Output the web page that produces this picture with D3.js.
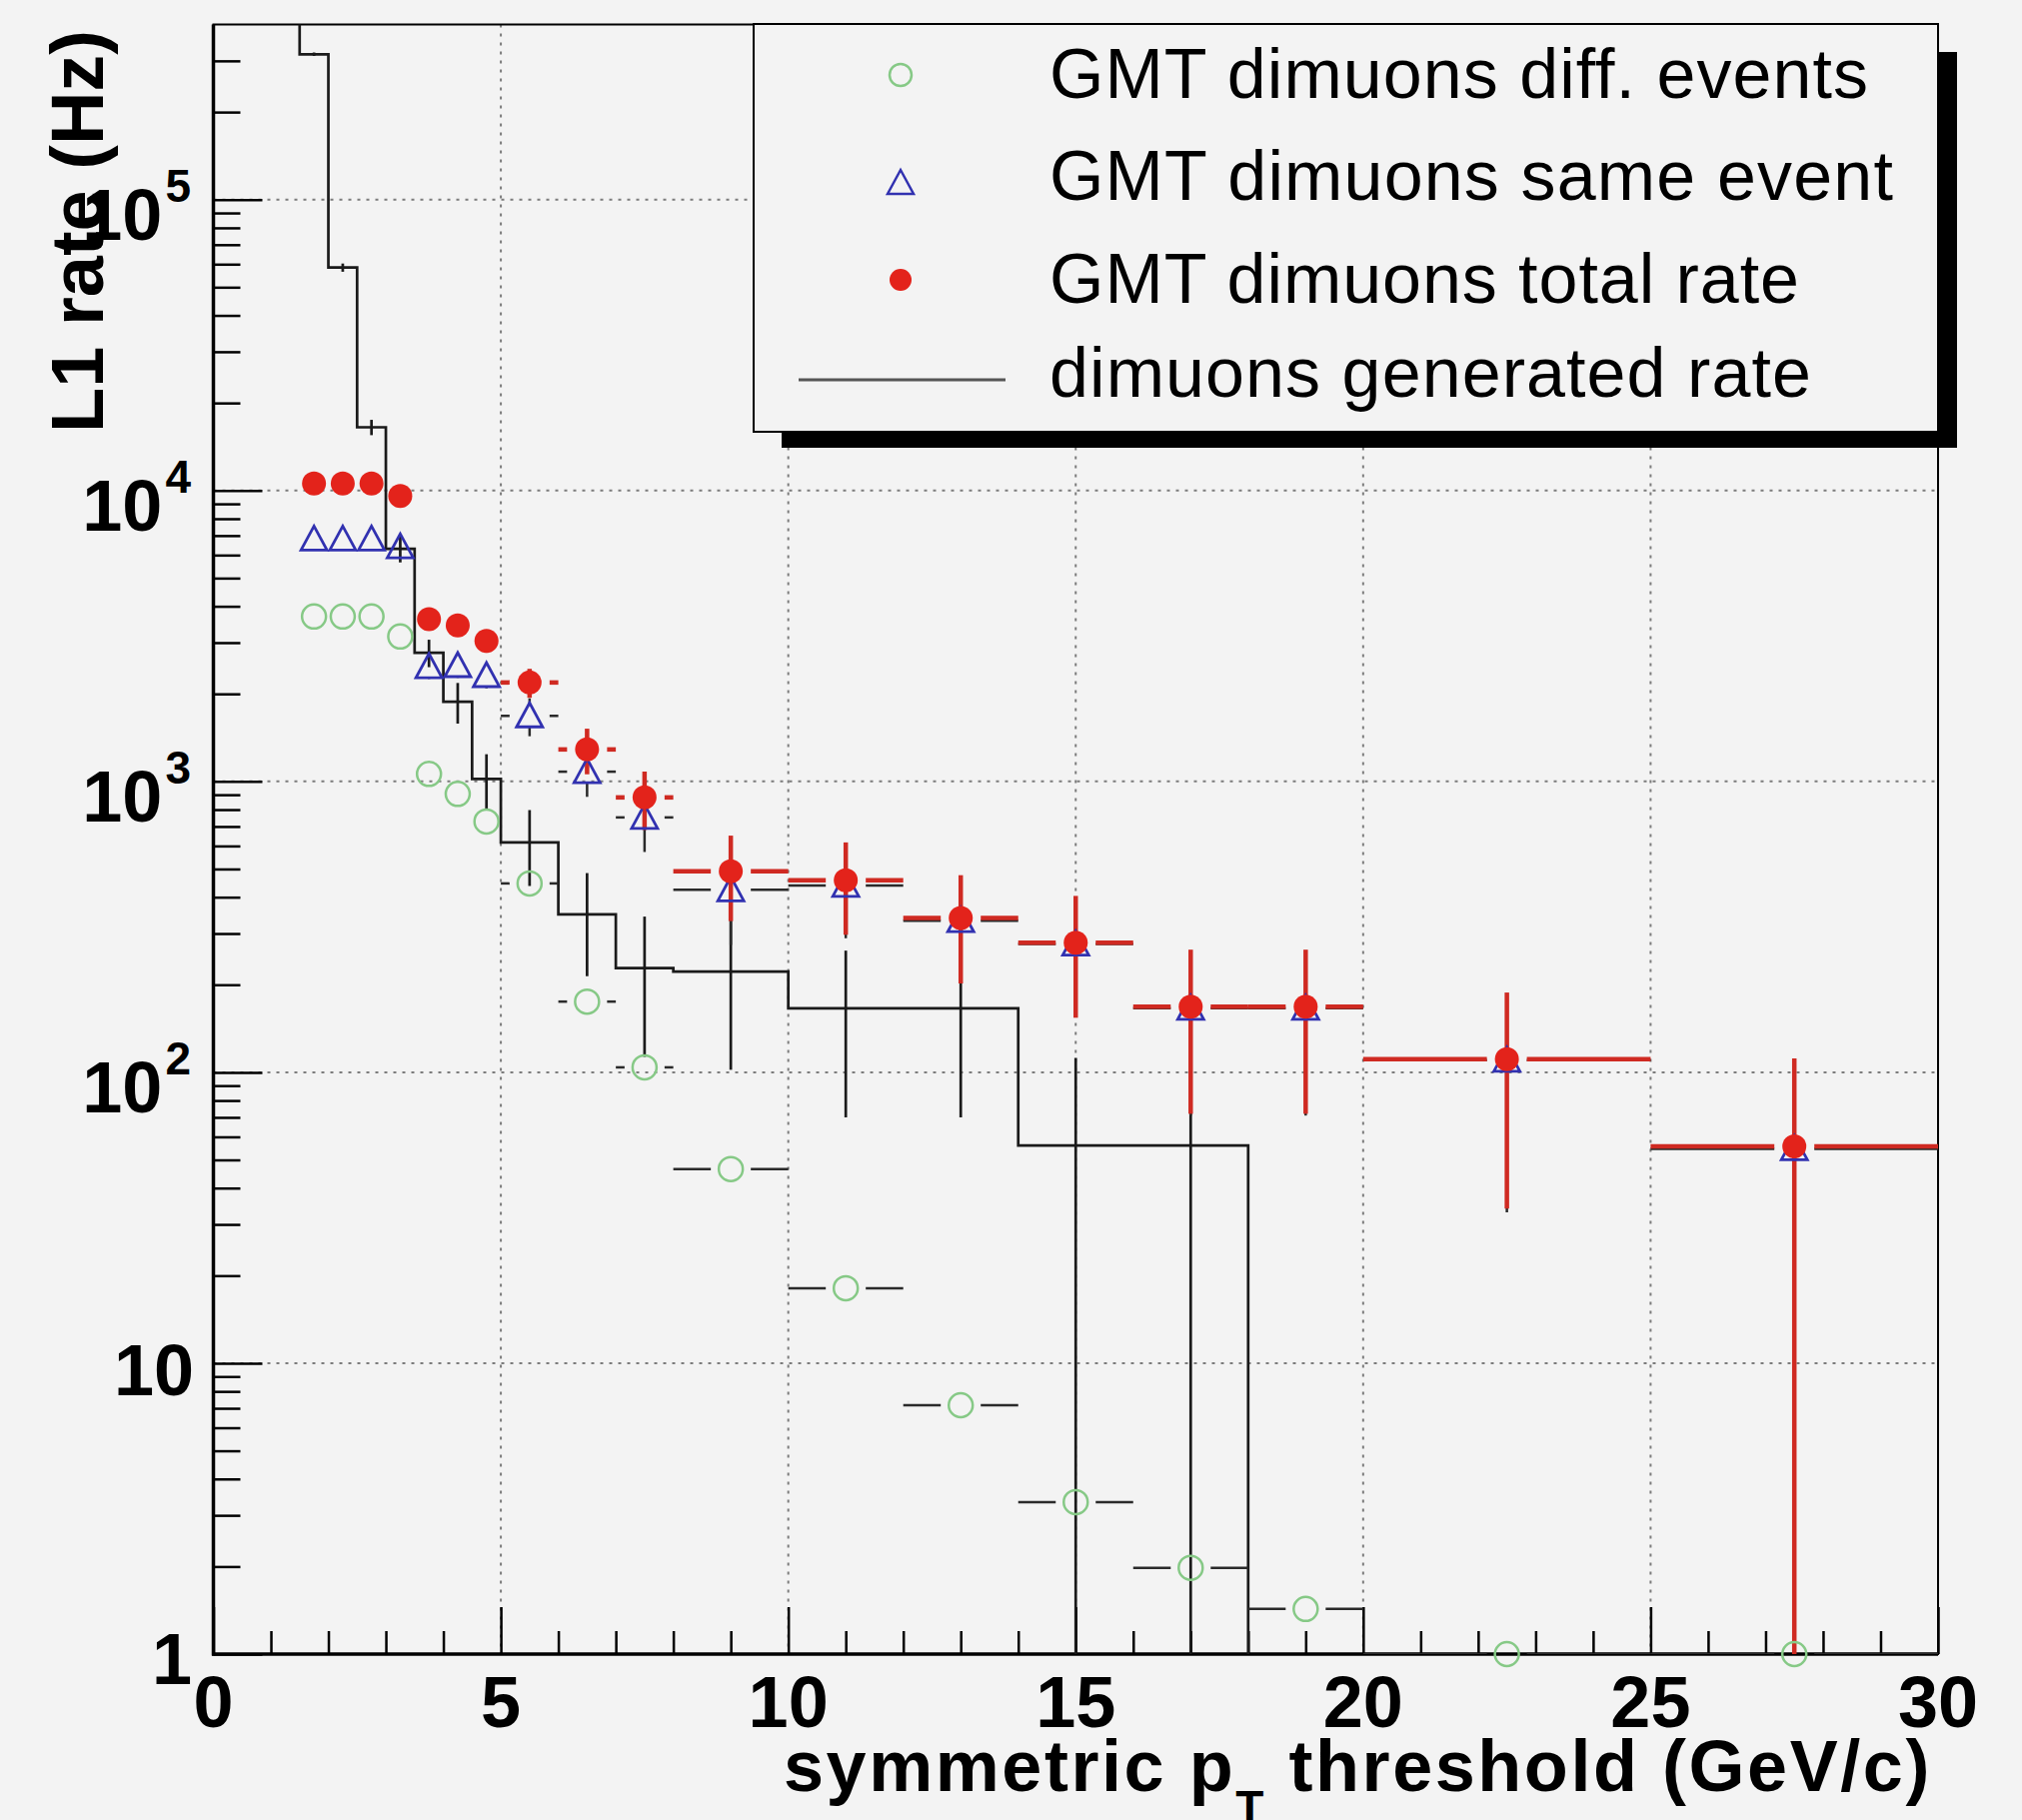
<!DOCTYPE html>
<html>
<head>
<meta charset="utf-8">
<script src="https://cdn.jsdelivr.net/npm/d3@7"></script>
<style>
  body { margin: 0; background: #f3f3f3; }
  svg { display: block; font-family: "Liberation Sans", Arial, Helvetica, sans-serif; }
</style>
</head>
<body>
<div id="chart"></div>
<script>
// bin edges of the GMT points (GeV/c)
const ptEdges = [1.5, 2, 2.5, 3, 3.5, 4, 4.5, 5, 6, 7, 8, 10, 12, 14, 16, 18, 20, 25, 30];

const diffEvents = [3690, 3690, 3690, 3150, 1061, 906, 728, 446, 175, 104, 46.5, 18.1, 7.17, 3.33, 1.98, 1.43, 1.0, 1.0];
const sameEvent = [6810, 6810, 6810, 6400, 2480, 2500, 2310, 1680, 1080, 752, 424, 439, 332, 276, 166, 166, 110, 54.6];
const sameEventErr = [580, 580, 580, 560, 230, 230, 220, 250, 195, 180, 150, 150, 130, 120, 95, 95, 77, 55];
const totalRate = [10570, 10570, 10570, 9580, 3614, 3436, 3039, 2188, 1288, 881, 491, 457, 339, 279, 168, 168, 111, 55.6];
const totalRateErr = [730, 730, 730, 690, 300, 290, 270, 250, 230, 200, 160, 160, 137, 125, 96, 96, 77, 56];

// generated rate histogram
const genEdges = [0, 0.5, 1, 1.5, 2, 2.5, 3, 3.5, 4, 4.5, 5, 6, 7, 8, 10, 12, 14, 16, 18, 20, 25, 30];
const genRate = [2.4e6, 1.6e6, 8.0e5, 3.16e5, 5.84e4, 1.65e4, 6300, 2770, 1880, 1020, 617, 349, 228, 222, 166, 166, 56, 56, 0, 0, 0];
const genRateErr = [0, 0, 0, 4500, 1900, 1000, 640, 300, 300, 220, 180, 135, 115, 120, 96, 96, 56, 56, 0, 0, 0];

const xTickValues = [0, 5, 10, 15, 20, 25, 30];
const yTickValues = [1, 10, 100, 1e3, 1e4, 1e5];

const legendLabels = [
  "GMT dimuons diff. events",
  "GMT dimuons same event",
  "GMT dimuons total rate",
  "dimuons generated rate"
];

const W = 2023, H = 1821;
const plot = { left: 213.5, right: 1939, top: 24.5, bottom: 1655 };
const bg = "#f3f3f3";
const red = "#e3231b", blue = "#3131b0", green = "#86c986";

const svg = d3.select("#chart").append("svg")
  .attr("width", W).attr("height", H);

svg.append("rect").attr("width", W).attr("height", H).attr("fill", bg);

const x = d3.scaleLinear().domain([0, 30]).range([plot.left, plot.right]);
const y = d3.scaleLog().domain([1, 4e5]).range([plot.bottom, plot.top]);

svg.append("defs").append("clipPath").attr("id", "clip")
  .append("rect")
  .attr("x", plot.left).attr("y", plot.top)
  .attr("width", plot.right - plot.left).attr("height", plot.bottom - plot.top);

// grid
const grid = svg.append("g").attr("stroke", "#7c7c7c").attr("stroke-width", 2)
  .attr("stroke-dasharray", "3 6");
grid.selectAll("line.gx").data(xTickValues.filter(v => v > 0 && v < 30)).join("line")
  .attr("x1", d => x(d)).attr("x2", d => x(d))
  .attr("y1", plot.top).attr("y2", plot.bottom);
grid.selectAll("line.gy").data(yTickValues.filter(v => v > 1)).join("line")
  .attr("x1", plot.left).attr("x2", plot.right)
  .attr("y1", d => y(d)).attr("y2", d => y(d));

// axes ticks (inward)
const xMinor = d3.range(0, 31).filter(v => v % 5 !== 0);
const yMinor = [];
for (let e = 0; e <= 5; e++) for (let k = 2; k <= 9; k++) {
  const v = k * Math.pow(10, e);
  if (v < 4e5) yMinor.push(v);
}

const axes = svg.append("g");
axes.append("g").attr("transform", `translate(0,${plot.bottom})`)
  .call(d3.axisBottom(x).tickValues(xMinor).tickSize(-23).tickFormat(""));
axes.append("g").attr("transform", `translate(0,${plot.bottom})`)
  .call(d3.axisBottom(x).tickValues(xTickValues).tickSize(-47).tickFormat(""));
axes.append("g").attr("transform", `translate(${plot.left},0)`)
  .call(d3.axisLeft(y).tickValues(yMinor).tickSize(-27).tickFormat(""));
axes.append("g").attr("transform", `translate(${plot.left},0)`)
  .call(d3.axisLeft(y).tickValues(yTickValues).tickSize(-49).tickFormat(""));
axes.selectAll(".domain").remove();
axes.selectAll(".tick line").attr("stroke", "#000").attr("stroke-width", 2.5);

// frame
svg.append("rect")
  .attr("x", plot.left).attr("y", plot.top)
  .attr("width", plot.right - plot.left).attr("height", plot.bottom - plot.top)
  .attr("fill", "none").attr("stroke", "#000").attr("stroke-width", 2);
svg.append("line").attr("x1", plot.left).attr("x2", plot.left)
  .attr("y1", plot.top).attr("y2", plot.bottom + 1.5)
  .attr("stroke", "#000").attr("stroke-width", 3.5);
svg.append("line").attr("x1", plot.left - 1.5).attr("x2", plot.right)
  .attr("y1", plot.bottom).attr("y2", plot.bottom)
  .attr("stroke", "#000").attr("stroke-width", 3.5);

// tick labels
svg.append("g").selectAll("text").data(xTickValues).join("text")
  .attr("x", d => x(d)).attr("y", plot.bottom + 73)
  .attr("text-anchor", "middle")
  .attr("font-size", 72).attr("font-weight", "bold")
  .text(d => d);

const yLab = svg.append("g").attr("font-weight", "bold");
yTickValues.forEach(v => {
  const e = Math.round(Math.log10(v));
  if (e === 0) {
    yLab.append("text").attr("x", 192).attr("y", y(v) + 30)
      .attr("text-anchor", "end").attr("font-size", 72).text("1");
  } else if (e === 1) {
    yLab.append("text").attr("x", 194).attr("y", y(v) + 32)
      .attr("text-anchor", "end").attr("font-size", 72).text("10");
  } else {
    const t = yLab.append("text").attr("x", 191).attr("y", y(v) + 40)
      .attr("text-anchor", "end").attr("font-size", 72);
    t.append("tspan").text("10");
    t.append("tspan").attr("dx", 3).attr("dy", -38).attr("font-size", 46).text(e);
  }
});

function fitWidth(sel, target) {
  const n = sel.node();
  const w = n.getComputedTextLength();
  const chars = n.textContent.length;
  sel.attr("letter-spacing", (target - w) / chars);
}

// axis titles
const xt = svg.append("text").attr("x", 784).attr("y", 1792)
  .attr("font-size", 72).attr("font-weight", "bold");
xt.append("tspan").text("symmetric p");
xt.append("tspan").attr("dy", 32).attr("font-size", 46).text("T");
xt.append("tspan").attr("dy", -32).text(" threshold (GeV/c)");
fitWidth(xt, 1149);

svg.append("text")
  .attr("transform", "translate(103,30) rotate(-90)")
  .attr("text-anchor", "end")
  .attr("font-size", 74).attr("font-weight", "bold")
  .text("L1 rate (Hz)");

// data layer
const data = svg.append("g").attr("clip-path", "url(#clip)");

// generated rate histogram (step line)
let d = `M${x(genEdges[0])},${y(Math.max(genRate[0], 0.5))}`;
genRate.forEach((v, i) => {
  const yy = v > 0 ? y(v) : plot.bottom + 5;
  d += `L${x(genEdges[i])},${yy}L${x(genEdges[i + 1])},${yy}`;
});
data.append("path").attr("d", d).attr("fill", "none")
  .attr("stroke", "#1a1a1a").attr("stroke-width", 2.7);

data.append("g").selectAll("line").data(genRate.map((v, i) => ({ v, e: genRateErr[i], i })).filter(p => p.v > 0 && p.e > 0))
  .join("line")
  .attr("x1", p => x((genEdges[p.i] + genEdges[p.i + 1]) / 2))
  .attr("x2", p => x((genEdges[p.i] + genEdges[p.i + 1]) / 2))
  .attr("y1", p => y(p.v + p.e))
  .attr("y2", p => (p.v - p.e > 0 ? y(p.v - p.e) : plot.bottom + 5))
  .attr("stroke", "#1a1a1a").attr("stroke-width", 2.7);

const pts = (vals, errs) => vals.map((v, i) => ({
  v, e: errs ? errs[i] : 0, lo: ptEdges[i], hi: ptEdges[i + 1], c: (ptEdges[i] + ptEdges[i + 1]) / 2
}));

function errorBars(g, points, color, width) {
  const hGap = 20, vGap = 11;
  const segs = [];
  points.forEach(p => {
    const cx = x(p.c), cy = y(p.v);
    if (cx - hGap > x(p.lo)) segs.push([x(p.lo), cy, cx - hGap, cy]);
    if (x(p.hi) > cx + hGap) segs.push([cx + hGap, cy, x(p.hi), cy]);
    if (p.e > 0) {
      const top = y(p.v + p.e);
      const bot = p.v - p.e > 0 ? y(p.v - p.e) : plot.bottom + 5;
      if (cy - vGap > top) segs.push([cx, top, cx, cy - vGap]);
      if (bot > cy + vGap) segs.push([cx, cy + vGap, cx, bot]);
    }
  });
  g.append("g").selectAll("line").data(segs).join("line")
    .attr("x1", s => s[0]).attr("y1", s => s[1])
    .attr("x2", s => s[2]).attr("y2", s => s[3])
    .attr("stroke", color).attr("stroke-width", width);
}

const triPath = (cx, cy) => `M${cx - 13},${cy + 11}L${cx},${cy - 13}L${cx + 13},${cy + 11}Z`;

const diffPts = pts(diffEvents, null);
const samePts = pts(sameEvent, sameEventErr);
const totPts = pts(totalRate, totalRateErr);

errorBars(data, diffPts, "#2a2a2a", 2.5);
errorBars(data, samePts, "#2a2a2a", 2.5);
errorBars(data, totPts, "#cf2a22", 4.5);

svg.append("g").selectAll("circle").data(diffPts).join("circle")
  .attr("cx", p => x(p.c)).attr("cy", p => y(p.v)).attr("r", 12)
  .attr("fill", "none").attr("stroke", green).attr("stroke-width", 2.5);

data.append("g").selectAll("path").data(samePts).join("path")
  .attr("d", p => triPath(x(p.c), y(p.v)))
  .attr("fill", "none").attr("stroke", blue).attr("stroke-width", 2.8);

data.append("g").selectAll("circle").data(totPts).join("circle")
  .attr("cx", p => x(p.c)).attr("cy", p => y(p.v)).attr("r", 12)
  .attr("fill", red);

// legend
const lg = svg.append("g");
lg.append("rect").attr("x", 782).attr("y", 52).attr("width", 1958 - 782).attr("height", 448 - 52)
  .attr("fill", "#000");
lg.append("rect").attr("x", 754).attr("y", 24).attr("width", 1939 - 754).attr("height", 432 - 24)
  .attr("fill", bg).attr("stroke", "#000").attr("stroke-width", 2);

const rowBase = [98, 200, 303, 397];
const rowMark = [75, 183, 280, 380];
const rowWidth = [820, 845, 751, 763];

lg.append("circle").attr("cx", 901).attr("cy", rowMark[0]).attr("r", 11)
  .attr("fill", "none").attr("stroke", green).attr("stroke-width", 2.5);
lg.append("path").attr("d", triPath(901, rowMark[1]))
  .attr("fill", "none").attr("stroke", blue).attr("stroke-width", 2.5);
lg.append("circle").attr("cx", 901).attr("cy", rowMark[2]).attr("r", 11).attr("fill", red);
lg.append("line").attr("x1", 799).attr("x2", 1006).attr("y1", rowMark[3]).attr("y2", rowMark[3])
  .attr("stroke", "#555").attr("stroke-width", 3);

legendLabels.forEach((t, i) => {
  const tx = lg.append("text").attr("x", 1050).attr("y", rowBase[i])
    .attr("font-size", 70).text(t);
  fitWidth(tx, rowWidth[i]);
});
</script>
</body>
</html>
